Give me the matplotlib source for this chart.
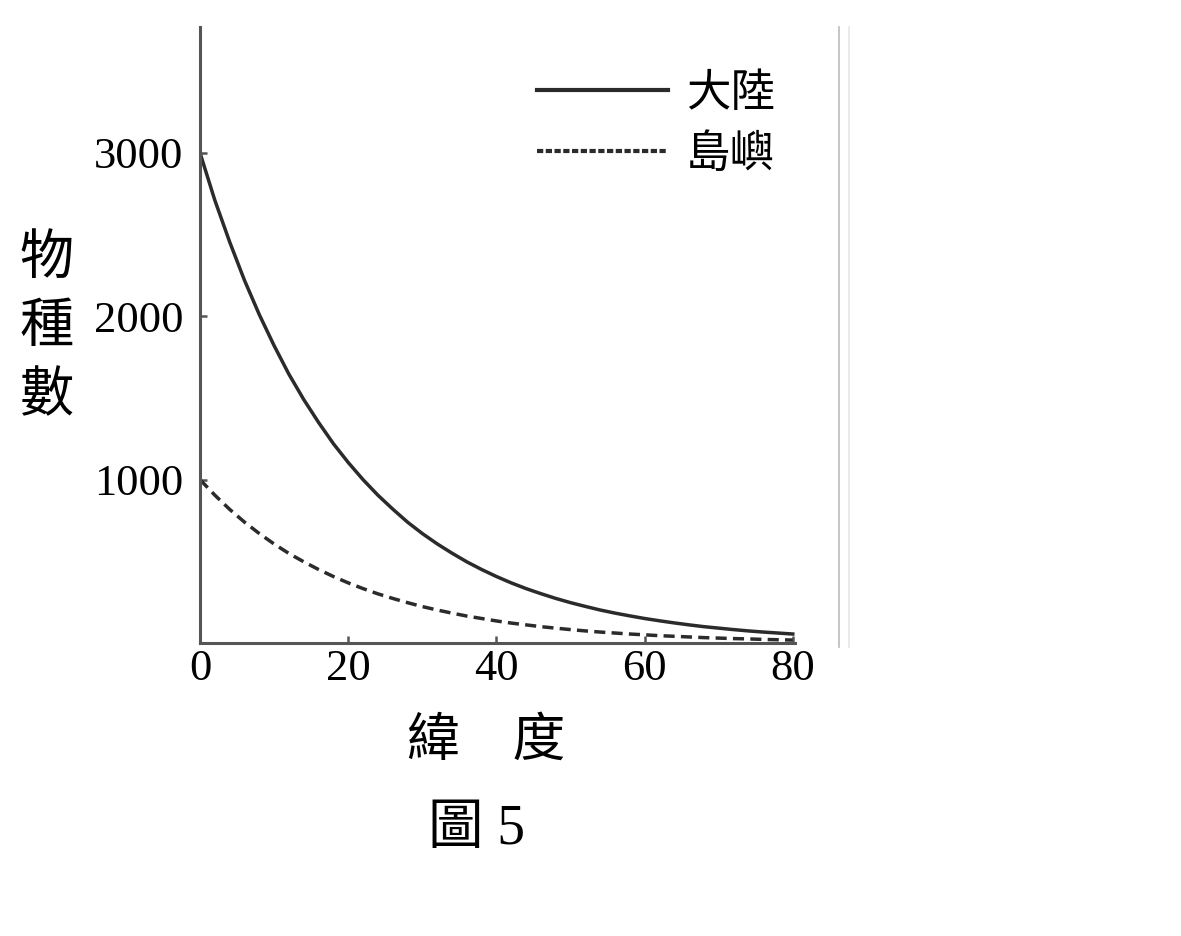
import matplotlib
matplotlib.use("Agg")
import matplotlib.pyplot as plt

plt.rcParams['font.family'] = ['Liberation Serif', 'Noto Sans CJK TC', 'DejaVu Sans']

# latitude and species count (every 2 degrees)
latitude = [0, 2, 4, 6, 8, 10, 12, 14, 16, 18, 20, 22, 24, 26, 28, 30, 32, 34, 36, 38,
            40, 42, 44, 46, 48, 50, 52, 54, 56, 58, 60, 62, 64, 66, 68, 70, 72, 74, 76, 78, 80]
mainland = [3000, 2710, 2455, 2220, 2010, 1820, 1645, 1490, 1350, 1220, 1105, 1000, 905,
            820, 740, 670, 607, 550, 497, 450, 407, 368, 333, 302, 273, 247, 224, 202,
            183, 166, 150, 136, 123, 111, 100, 91, 82, 74, 67, 61, 55]
island = [1000, 905, 818, 740, 670, 606, 548, 497, 450, 407, 368, 333, 301, 273, 247,
          223, 202, 183, 165, 150, 135, 122, 111, 100, 91, 82, 74, 67, 61, 55, 50, 45,
          41, 37, 33, 30, 27, 25, 22, 20, 18]
labels = ['大陸', '島嶼']
xticks = [0, 20, 40, 60, 80]
yticks = [1000, 2000, 3000]

W, H = 1181, 936
fig = plt.figure(figsize=(W / 100, H / 100), dpi=100)
ax = fig.add_axes([200 / W, 1 - 643 / H, 595 / W, 616 / H])

line_col = '#2b2b2b'
ax.plot(latitude, mainland, color=line_col, lw=2.5, label=labels[0])
ax.plot(latitude, island, color=line_col, lw=2.5, ls=(0, (3.2, 1.8)), label=labels[1])

ax.set_xlim(0, 80.3)
ax.set_ylim(0, 3770)
ax.set_xticks(xticks)
ax.set_yticks(yticks)
for s in ['top', 'right']:
    ax.spines[s].set_visible(False)
for s in ['left', 'bottom']:
    ax.spines[s].set_color('#555555')
    ax.spines[s].set_linewidth(2.2)
ax.tick_params(direction='in', length=5, width=1.8, color='#555555',
               labelsize=32, pad=4)
ax.tick_params(axis='y', pad=12)

leg = ax.legend(loc='upper left', bbox_to_anchor=(337 / 595, 1 - 43 / 616),
                frameon=False, fontsize=32, handlelength=2.95,
                handletextpad=0.4, labelspacing=0.33, borderpad=0,
                borderaxespad=0)
for t in leg.get_texts():
    t.set_family(['Noto Sans CJK TC', 'DejaVu Sans'])
for ln in leg.get_lines():
    ln.set_linewidth(3.0)
leg.get_lines()[1].set_linestyle((0, (1.5, 0.6)))

# axis titles and caption
fig.text(47 / W, 1 - 327 / H, '物\n種\n數', ha='center', va='center',
         fontsize=39, linespacing=1.32, family=['Noto Sans CJK TC'])
fig.text(486 / W, 1 - 740 / H, '緯\u3000度', ha='center', va='center',
         fontsize=38, family=['Noto Sans CJK TC'])
fig.text(476 / W, 1 - 830 / H, '圖 5', ha='center', va='center',
         fontsize=40, family=['Liberation Serif', 'Noto Sans CJK TC'])

# thin page-edge lines on the right
fig.add_artist(plt.Line2D([839 / W, 839 / W], [1 - 647 / H, 1 - 27 / H],
                          color='#bbbbbb', lw=1.2))
fig.add_artist(plt.Line2D([849 / W, 849 / W], [1 - 647 / H, 1 - 27 / H],
                          color='#e6e6e6', lw=1.2))

fig.savefig('out.png', dpi=100)
